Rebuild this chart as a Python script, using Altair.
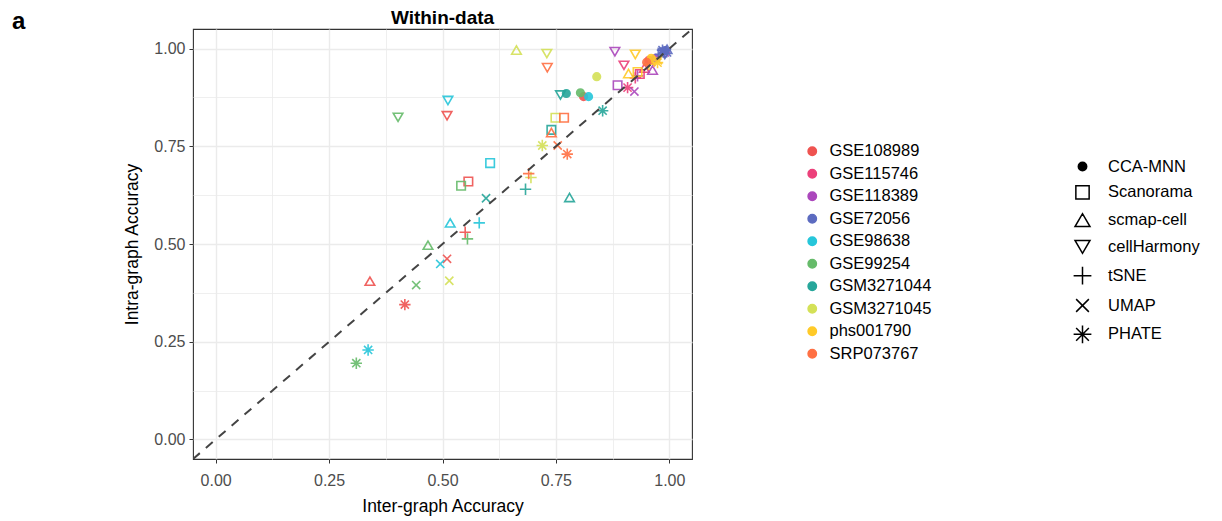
import altair as alt
import pandas as pd

datasets = ["GSE108989", "GSE115746", "GSE118389", "GSE72056", "GSE98638",
            "GSE99254", "GSM3271044", "GSM3271045", "phs001790", "SRP073767"]
colors = ["#EF5350", "#EC407A", "#AB47BC", "#5C6BC0", "#26C6DA",
          "#66BB6A", "#26A69A", "#D4E157", "#FFCA28", "#FF7043"]
methods = ["CCA-MNN", "Scanorama", "scmap-cell", "cellHarmony", "tSNE", "UMAP", "PHATE"]

# values per dataset, in the order of `methods`
inter = {
    "GSE108989": [0.811, 0.557, 0.340, 0.510, 0.550, 0.510, 0.417],
    "GSE115746": [0.955, 0.935, 0.945, 0.900, 0.925, 0.960, 0.908],
    "GSE118389": [0.970, 0.886, 0.963, 0.880, 0.930, 0.923, 0.990],
    "GSE72056":  [0.990, 0.985, 0.995, 0.990, 0.980, 0.995, 0.985],
    "GSE98638":  [0.822, 0.605, 0.517, 0.512, 0.581, 0.495, 0.336],
    "GSE99254":  [0.804, 0.541, 0.468, 0.402, 0.555, 0.442, 0.310],
    "GSM3271044": [0.773, 0.740, 0.780, 0.760, 0.683, 0.596, 0.853],
    "GSM3271045": [0.840, 0.749, 0.663, 0.730, 0.695, 0.515, 0.720],
    "phs001790": [0.960, 0.930, 0.910, 0.925, 0.955, 0.975, 0.974],
    "SRP073767": [0.950, 0.768, 0.740, 0.731, 0.690, 0.754, 0.775],
}
intra = {
    "GSE108989": [0.877, 0.660, 0.405, 0.828, 0.530, 0.462, 0.345],
    "GSE115746": [0.970, 0.935, 0.950, 0.957, 0.925, 0.965, 0.900],
    "GSE118389": [0.975, 0.906, 0.945, 0.992, 0.930, 0.890, 0.990],
    "GSE72056":  [0.995, 0.990, 0.998, 0.985, 0.985, 0.990, 0.996],
    "GSE98638":  [0.877, 0.707, 0.554, 0.867, 0.554, 0.449, 0.229],
    "GSE99254":  [0.887, 0.649, 0.497, 0.824, 0.513, 0.395, 0.195],
    "GSM3271044": [0.885, 0.792, 0.619, 0.881, 0.640, 0.617, 0.841],
    "GSM3271045": [0.928, 0.823, 0.996, 0.987, 0.670, 0.406, 0.752],
    "phs001790": [0.975, 0.940, 0.936, 0.985, 0.960, 0.970, 0.964],
    "SRP073767": [0.965, 0.823, 0.785, 0.951, 0.680, 0.752, 0.730],
}
diagonal = [-0.05, 1.05]
grid_values = [0, 0.125, 0.25, 0.375, 0.5, 0.625, 0.75, 0.875, 1.0]

rows = []
for d in datasets:
    for m, xv, yv in zip(methods, inter[d], intra[d]):
        rows.append({"dataset": d, "method": m, "inter": xv, "intra": yv})
df = pd.DataFrame(rows)


def ring(r):
    return f"M-{r},0A{r},{r},0,1,1,{r},0A{r},{r},0,1,1,-{r},0Z"


# symbol outlines (unit box -1..1); closed outlines are traced out and back so they hold no area
CIRCLE = ring(0.63)
DISC = "".join(ring(r) for r in (0.45, 0.33, 0.21, 0.09))   # solid dot drawn with strokes (legend)
SQUARE = "M0,-0.71L0.71,-0.71L0.71,0.71L-0.71,0.71L-0.71,-0.71L0,-0.71L-0.71,-0.71L-0.71,0.71L0.71,0.71L0.71,-0.71Z"
TRI_UP = "M0,0.69L0.8,0.69L0,-0.69L-0.8,0.69L0,0.69L-0.8,0.69L0,-0.69L0.8,0.69Z"
TRI_DOWN = "M0,-0.69L0.8,-0.69L0,0.69L-0.8,-0.69L0,-0.69L-0.8,-0.69L0,0.69L0.8,-0.69Z"
PLUS = "M-0.95,0L0.95,0M0,-0.95L0,0.95"
CROSS = "M-0.68,-0.68L0.68,0.68M-0.68,0.68L0.68,-0.68"
STAR = PLUS + CROSS
shape_range = [CIRCLE, SQUARE, TRI_UP, TRI_DOWN, PLUS, CROSS, STAR]
key_shape_range = [DISC, SQUARE, TRI_UP, TRI_DOWN, PLUS, CROSS, STAR]

FONT = "Liberation Sans"
major = "abs(datum.value*4 - round(datum.value*4)) < 0.001"
minor = "abs(datum.value*4 - round(datum.value*4)) > 0.001"


def make_axis(title, title_pad, label_pad):
    return alt.Axis(
        title=title, values=grid_values,
        labelExpr=f"{major} ? format(datum.value, '.2f') : ''",
        grid=True, gridColor="#EBEBEB",
        gridWidth={"condition": {"test": major, "value": 1.4}, "value": 0.8},
        tickOpacity={"condition": {"test": minor, "value": 0}, "value": 1},
        tickColor="#333333", tickSize=4, tickWidth=1, domain=False,
        labelFont=FONT, labelFontSize=16, labelColor="#4D4D4D", labelPadding=label_pad,
        labelFlush=False, labelOverlap=False,
        titleFont=FONT, titleFontSize=17.5, titleFontWeight="normal", titleColor="black",
        titlePadding=title_pad,
    )


xscale = alt.Scale(domain=[-0.05, 1.05], nice=False, zero=False)
yscale = alt.Scale(domain=[-0.05, 1.05], nice=False, zero=False)
cscale = alt.Scale(domain=datasets, range=colors)

color_legend = alt.Legend(
    title=None, orient="none", legendX=611, legendY=114, padding=0,
    symbolType="circle", symbolSize=70, symbolOpacity=1, labelFont=FONT, labelFontSize=16.5,
    labelColor="black", rowPadding=5.5, labelOffset=9,
)
shape_legend = alt.Legend(
    title=None, orient="none", legendX=879, legendY=127, padding=0,
    symbolSize=350, symbolOpacity=1, symbolStrokeColor="black", symbolStrokeWidth=1.5,
    labelFont=FONT, labelFontSize=16.5, labelColor="black", rowPadding=6.8, labelOffset=15,
)

x_enc = alt.X("inter:Q", scale=xscale, axis=make_axis("Inter-graph Accuracy", 9, 9))
y_enc = alt.Y("intra:Q", scale=yscale, axis=make_axis("Intra-graph Accuracy", 12, 4))

points = alt.Chart(df).mark_point(filled=False, strokeWidth=1.6, opacity=0.9, size=144).encode(
    x=x_enc, y=y_enc,
    stroke=alt.Stroke("dataset:N", scale=cscale, legend=None),
    fill=alt.condition(
        "datum.method === 'CCA-MNN'",
        alt.Fill("dataset:N", scale=cscale, legend=None),
        alt.value("transparent"),
    ),
    shape=alt.Shape("method:N", scale=alt.Scale(domain=methods, range=shape_range), legend=None),
)

color_key = alt.Chart(df).mark_circle(opacity=0).encode(
    x=x_enc, y=y_enc,
    color=alt.Color("dataset:N", scale=cscale, legend=color_legend),
)

shape_key = alt.Chart(df).mark_point(
    filled=False, color="black", strokeWidth=1.5, opacity=0
).encode(
    x=x_enc, y=y_enc,
    shape=alt.Shape("method:N", scale=alt.Scale(domain=methods, range=key_shape_range),
                    legend=shape_legend),
)

diag_df = pd.DataFrame({"inter": diagonal, "intra": diagonal})
line = alt.Chart(diag_df).mark_line(
    strokeDash=[9, 8], color="#444444", strokeWidth=2, clip=True
).encode(x=alt.X("inter:Q", scale=xscale), y=alt.Y("intra:Q", scale=yscale))

panel_label = alt.Chart(pd.DataFrame({"label": ["a"]})).mark_text(
    align="left", baseline="alphabetic", fontSize=24, fontWeight="bold", font=FONT, color="black"
).encode(text="label:N", x=alt.value(-181), y=alt.value(0))

chart = alt.layer(color_key, shape_key, points, line, panel_label).resolve_scale(
    shape="independent"
).properties(
    width=499, height=430,
    title=alt.TitleParams("Within-data", font=FONT, fontSize=19, fontWeight="bold",
                          anchor="middle", color="black", offset=6, dy=24),
    autosize=alt.AutoSizeParams(type="none"),
    padding={"left": 185, "top": 21, "right": 522, "bottom": 58},
).configure_view(stroke="#333333", strokeWidth=1.1)

chart.save("out.html", embed_options={"renderer": "svg", "actions": False})
